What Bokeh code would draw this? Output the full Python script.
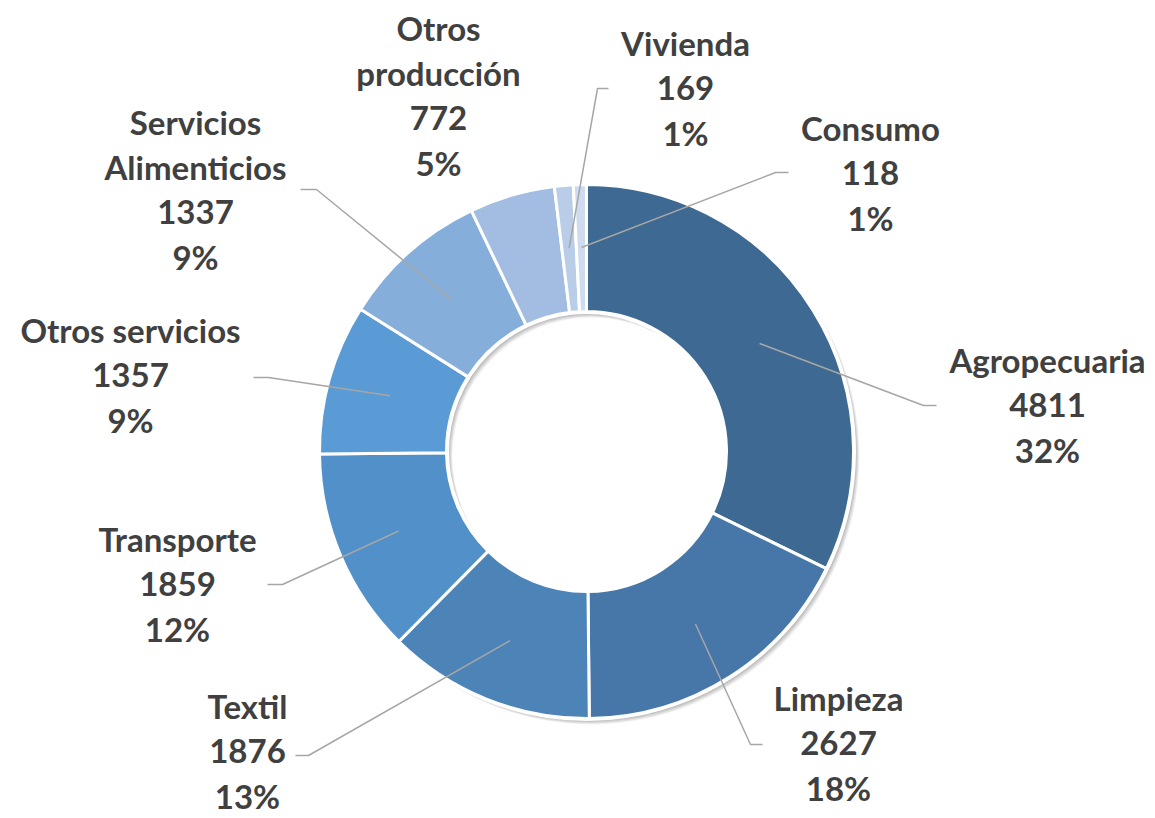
import math
from bokeh.plotting import figure
from bokeh.models import Range1d, ColumnDataSource
from bokeh.core.properties import value
from bokeh.embed import file_html
from bokeh.resources import INLINE

# ---- data ----
categories = ["Agropecuaria", "Limpieza", "Textil", "Transporte", "Otros servicios",
              "Servicios\nAlimenticios", "Otros\nproducción", "Vivienda", "Consumo"]
values = [4811, 2627, 1876, 1859, 1357, 1337, 772, 169, 118]
colors = ["#3D6992", "#4677A8", "#4D84B8", "#5190C8", "#5B9BD5",
          "#85AEDB", "#A2BDE1", "#B9CDE9", "#CFDCF0"]

# ---- layout (reference pixel coords, y downward) ----
CX, CY = 586, 451
R_OUT, R_IN = 267, 140
R_LEAD = 204
TEXT_SHIFT = -13
label_anchor = {  # center x, first baseline
    "Agropecuaria": (1047, 372),
    "Limpieza": (838, 710),
    "Textil": (247, 718),
    "Transporte": (177, 551),
    "Otros servicios": (130, 342),
    "Servicios\nAlimenticios": (195, 134),
    "Otros\nproducción": (438, 40),
    "Vivienda": (685, 55),
    "Consumo": (870, 140),
}
leader_elbow = {
    "Agropecuaria": [(923, 405), (936, 405)],
    "Limpieza": [(750, 744), (762, 744)],
    "Textil": [(308, 755), (295, 755)],
    "Transporte": [(282, 584), (267, 584)],
    "Otros servicios": [(268, 377), (253, 377)],
    "Servicios\nAlimenticios": [(316, 189), (300, 189)],
    "Vivienda": [(597, 88), (608, 88)],
    "Consumo": [(775, 172), (788, 172)],
}
LINE_H = 45

W, H = 1155, 818
def Y(y):  # reference pixel y -> data y
    return H - y

p = figure(width=W, height=H, output_backend="svg", toolbar_location=None,
           x_range=Range1d(0, W), y_range=Range1d(0, H),
           min_border=0)
p.axis.visible = False
p.grid.visible = False
p.outline_line_color = None
p.background_fill_color = "white"

total = sum(values)
starts, ends, mids = [], [], []
cum = 0
for v in values:
    a0 = math.pi / 2 - 2 * math.pi * cum / total
    cum += v
    a1 = math.pi / 2 - 2 * math.pi * cum / total
    starts.append(a0)
    ends.append(a1)
    mids.append((a0 + a1) / 2)

# soft shadow
for off, al in [(5, 0.05), (4, 0.07), (3, 0.08), (2, 0.08)]:
    p.annulus(x=[CX + off], y=[Y(CY) - off], inner_radius=R_IN - 1, outer_radius=R_OUT + 1,
              fill_color="#000000", fill_alpha=al, line_color=None)

src = ColumnDataSource(dict(start=starts, end=ends, color=colors))
p.annular_wedge(x=CX, y=Y(CY), inner_radius=R_IN, outer_radius=R_OUT,
                start_angle="start", end_angle="end", direction="clock",
                fill_color="color", line_color="white", line_width=3, source=src)
# white rims
p.circle(x=[CX], y=[Y(CY)], radius=R_OUT + 1, fill_color=None, line_color="white", line_width=3)
p.circle(x=[CX], y=[Y(CY)], radius=R_IN - 1, fill_color=None, line_color="white", line_width=3)

# leader lines
for cat, m in zip(categories, mids):
    if cat not in leader_elbow:
        continue
    sx = CX + R_LEAD * math.cos(m)
    sy = Y(CY) + R_LEAD * math.sin(m)
    pts = leader_elbow[cat]
    xs = [sx] + [pt[0] for pt in pts]
    ys = [sy] + [Y(pt[1]) for pt in pts]
    p.line(xs, ys, line_color="#A6A6A6", line_width=1.5)

# labels
tx, ty, tt = [], [], []
for cat, v in zip(categories, values):
    lines = cat.split("\n") + [str(v), f"{round(v / total * 100)}%"]
    x0, b0 = label_anchor[cat]
    for i, t in enumerate(lines):
        tx.append(x0)
        ty.append(Y(b0 + TEXT_SHIFT + i * LINE_H))
        tt.append(t)
p.text(x=tx, y=ty, text=tt, text_font=value("Lato"), text_font_style="bold",
       text_font_size="33px", text_color="#404040", text_align="center",
       text_baseline="alphabetic")

open("out.html", "w").write(file_html(p, INLINE))
